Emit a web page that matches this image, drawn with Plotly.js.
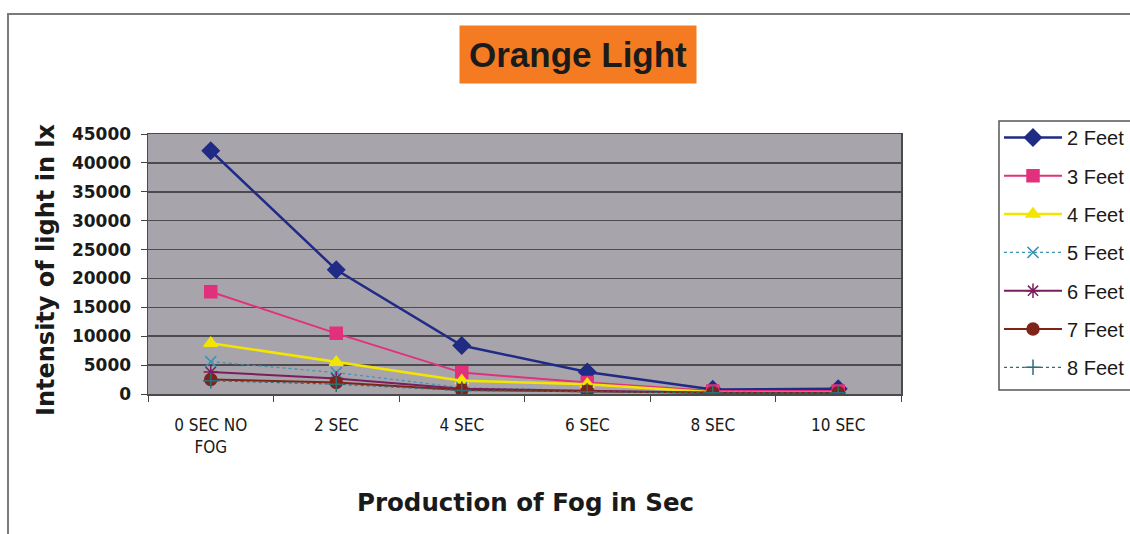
<!DOCTYPE html>
<html>
<head>
<meta charset="utf-8">
<script src="https://cdn.plot.ly/plotly-3.0.1.min.js"></script>
<style>
  html, body { margin: 0; padding: 0; background: #ffffff; }
  #chart { width: 1130px; height: 534px; }
</style>
</head>
<body>
<div id="chart"></div>
<script>
// Fog production time (x categories)
const categories = ['0 SEC NO<br>FOG', '2 SEC', '4 SEC', '6 SEC', '8 SEC', '10 SEC'];

// Light intensity (lx) measured at each distance
const feet2 = [42100, 21500, 8400, 3800, 800, 900];
const feet3 = [17700, 10500, 3700, 2000, 500, 500];
const feet4 = [8800, 5500, 2300, 1700, 300, 300];
const feet5 = [5600, 3700, 1100, 600, 300, 200];
const feet6 = [3800, 2700, 900, 600, 200, 200];
const feet7 = [2500, 2000, 700, 500, 200, 200];
const feet8 = [2300, 1700, 600, 400, 200, 200];

const seriesNames = ['2 Feet', '3 Feet', '4 Feet', '5 Feet', '6 Feet', '7 Feet', '8 Feet'];
const yTickValues = [0, 5000, 10000, 15000, 20000, 25000, 30000, 35000, 40000, 45000];

// Series styling
const styles = [
  { color: '#1f2b85', symbol: 'diamond',         size: 13, width: 2.5 },
  { color: '#e2317c', symbol: 'square',          size: 12, width: 2 },
  { color: '#f2e600', symbol: 'triangle-up',     size: 12, width: 2.5 },
  { color: '#3f93b3', symbol: 'x-thin-open',     size: 11, width: 1.2, dash: 'dot' },
  { color: '#7a1e5e', symbol: 'asterisk-open',   size: 12, width: 2 },
  { color: '#7f2418', symbol: 'circle',          size: 12, width: 2 },
  { color: '#2e6d7a', symbol: 'cross-thin-open', size: 11, width: 1.2, dash: 'dot' }
];
const values = [feet2, feet3, feet4, feet5, feet6, feet7, feet8];

const traces = values.map((v, i) => ({
  type: 'scatter',
  mode: 'lines+markers',
  x: categories,
  y: v,
  name: seriesNames[i],
  legendgroup: 'g' + i,
  line: { color: styles[i].color, width: styles[i].width, dash: styles[i].dash || 'solid' },
  marker: {
    color: styles[i].color,
    symbol: styles[i].symbol,
    size: styles[i].size,
    line: { color: styles[i].color, width: 1.5 }
  }
}));

// Plot area in pixels
const W = 1130, H = 534;
const M = { l: 148, r: 229, t: 134, b: 140, autoexpand: false };
const pw = W - M.l - M.r, ph = H - M.t - M.b;
const px = x => (x - M.l) / pw;
const py = y => (H - M.b - y) / ph;

const layout = {
  width: W,
  height: H,
  margin: M,
  paper_bgcolor: '#ffffff',
  plot_bgcolor: '#a8a4ab',
  showlegend: true,
  font: { family: 'Liberation Sans, Arial, sans-serif', color: '#1a1a1a' },
  xaxis: {
    type: 'category',
    range: [-0.5, 5.5],
    tickson: 'boundaries',
    ticks: 'outside',
    ticklen: 6,
    tickcolor: '#444',
    ticklabelstandoff: 15,
    showgrid: false,
    showline: true,
    linecolor: '#4a4a4a',
    linewidth: 1.5,
    mirror: true,
    zeroline: false,
    tickfont: { family: 'DejaVu Sans Condensed, Liberation Sans Narrow, Liberation Sans, sans-serif', size: 17, color: '#1a1a1a' },
    fixedrange: true
  },
  yaxis: {
    range: [0, 45000],
    tickvals: yTickValues,
    ticktext: yTickValues.map(String),
    ticks: 'outside',
    ticklen: 6,
    tickcolor: '#444',
    ticklabelstandoff: 6,
    showgrid: true,
    gridcolor: '#4d4b50',
    gridwidth: 1.5,
    showline: true,
    linecolor: '#4a4a4a',
    linewidth: 1.5,
    mirror: true,
    zeroline: false,
    tickfont: { family: 'DejaVu Sans, sans-serif', weight: 'bold', size: 17, color: '#1a1a1a' },
    fixedrange: true
  },
  legend: {
    x: px(999),
    y: py(118),
    xanchor: 'left',
    yanchor: 'top',
    bgcolor: 'rgba(0,0,0,0)',
    borderwidth: 0,
    itemwidth: 58,
    traceorder: 'grouped',
    tracegroupgap: 9.3,
    font: { family: 'Liberation Sans, Arial, sans-serif', size: 20, color: '#1a1a1a' }
  },
  shapes: [
    // outer chart frame
    {
      type: 'rect', xref: 'paper', yref: 'paper',
      x0: px(8), x1: px(1145), y0: py(560), y1: py(14),
      line: { color: '#7a7a7a', width: 2 }, fillcolor: 'rgba(0,0,0,0)', layer: 'below'
    },
    // legend frame
    {
      type: 'rect', xref: 'paper', yref: 'paper',
      x0: px(999), x1: px(1150), y0: py(390), y1: py(121),
      line: { color: '#555555', width: 1.5 }, fillcolor: '#ffffff', layer: 'below'
    }
  ],
  annotations: [
    {
      text: 'Orange Light',
      xref: 'paper', yref: 'paper',
      x: px(577.5), y: py(55),
      xanchor: 'center', yanchor: 'middle',
      showarrow: false,
      bgcolor: '#f47b22',
      borderpad: 9,
      font: { family: 'Liberation Sans, Arial, sans-serif', weight: 'bold', size: 35, color: '#1b1b1b' }
    },
    {
      text: 'Intensity of light in lx',
      xref: 'paper', yref: 'paper',
      x: px(46), y: py(270),
      xanchor: 'center', yanchor: 'middle',
      textangle: -90,
      showarrow: false,
      font: { family: 'DejaVu Sans, sans-serif', weight: 'bold', size: 24, color: '#1a1a1a' }
    },
    {
      text: 'Production of Fog in Sec',
      xref: 'paper', yref: 'paper',
      x: px(525), y: py(502),
      xanchor: 'center', yanchor: 'middle',
      showarrow: false,
      font: { family: 'DejaVu Sans, sans-serif', weight: 'bold', size: 24.5, color: '#1a1a1a' }
    }
  ]
};

Plotly.newPlot('chart', traces, layout, { staticPlot: true, displayModeBar: false });
</script>
</body>
</html>
